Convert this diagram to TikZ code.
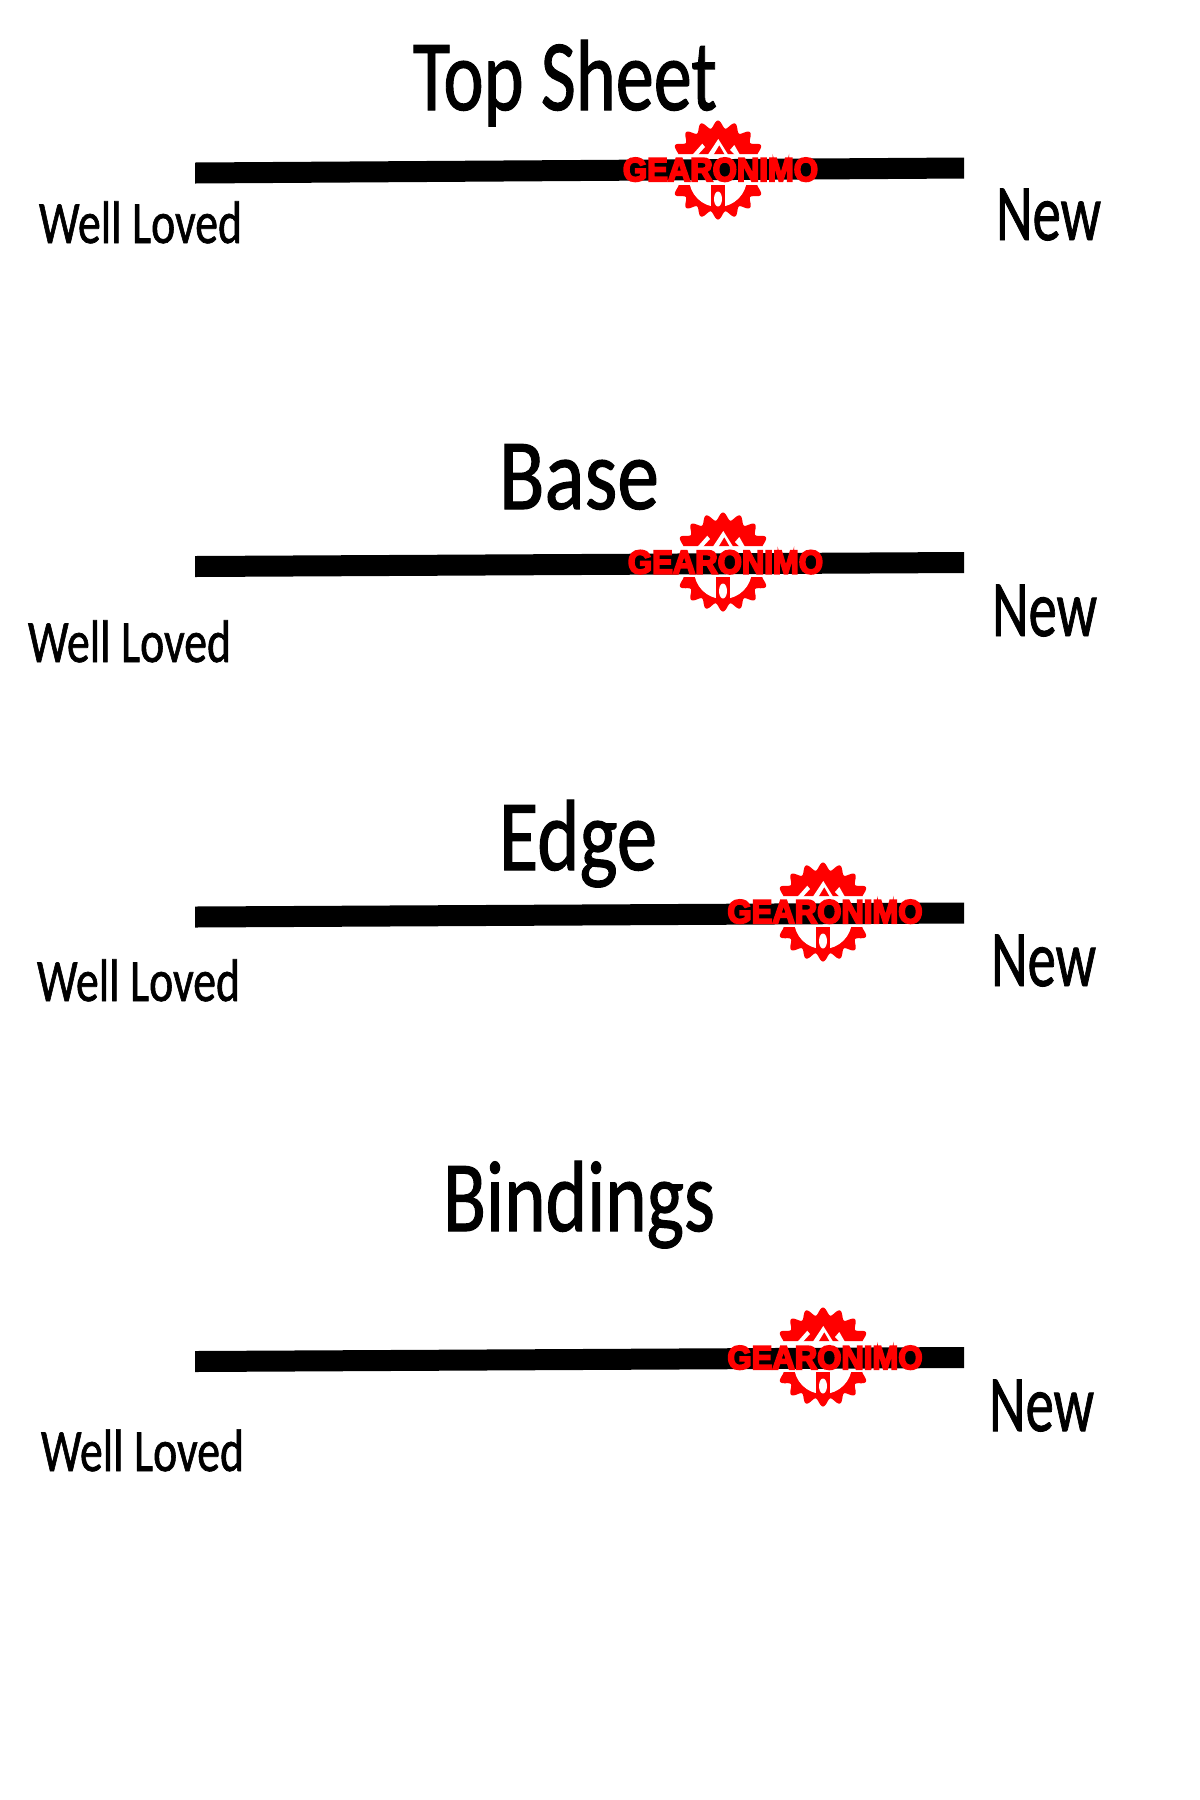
\documentclass[tikz,border=0pt]{standalone}
\usepackage{fontspec}
\usepackage{graphicx}
\newfontfamily\handfont[FakeBold=1.2]{Carlito}
\newfontfamily\logofont[FakeBold=6]{Liberation Sans Bold}
\definecolor{logored}{RGB}{255,0,0}
\newcommand{\handtext}[6]{%
  \node[anchor=base west,inner sep=0pt,outer sep=0pt] (#1) at (#2,#3)
    {\resizebox{#4pt}{\height}{\fontsize{#5}{#5}\handfont #6}};}
\newcommand{\gearlogo}[3]{%
  \begin{scope}[shift={(#2,#3)}]
    \begin{scope}
      \clip (-60,-60) rectangle (60,-16) (-60,15) rectangle (60,60);
      \fill[logored] plot[variable=\t,domain=0:360,samples=361,smooth cycle]
        ({(42+7.5*(0.5+0.5*cos(18*\t)))*sin(\t)},{(42+7.5*(0.5+0.5*cos(18*\t)))*cos(\t)});
    \end{scope}
    \fill[white] (-25.7,-15) -- (-15.7,-26.3) -- (-13,-23) -- (-20.3,-15) -- cycle;
    \fill[white] (-10.3,-15) -- (0.3,-31) -- (10.3,-15) -- (7,-15) -- (1.3,-25) -- (-4.7,-15) -- cycle;
    \fill[white] (12,-20) -- (16.3,-25) -- (22,-15) -- (17,-15) -- cycle;
    \begin{scope}
      \clip (-60,14) rectangle (60,60);
      \fill[white] (0,8) circle[radius=29];
    \end{scope}
    \fill[logored] (-7,15) -- (7,15) -- (7,40) -- (-7,40) -- cycle;
    \fill[white] (0,29) ellipse[x radius=4,y radius=7.5];
  \end{scope}}
\newcommand{\logotext}[3]{%
  \node[anchor=base,inner sep=0pt,outer sep=0pt,text=logored] (#1) at (#2,#3)
    {\resizebox{195pt}{\height}{\fontsize{33}{33}\logofont GEARONIMO}};}
\begin{document}
\begin{tikzpicture}[x=1pt,y=-1pt]
\useasboundingbox (0,0) rectangle (1200,1800);
\fill[white] (0,0) rectangle (1200,1800);
% gears
\gearlogo{g1}{718}{170}
\gearlogo{g2}{723}{562}
\gearlogo{g3}{823}{912}
\gearlogo{g4}{823}{1357}
% bars
\fill[black] (195,162.5) -- (964,157.5) -- (964,178.5) -- (195,183.5) -- cycle;
\fill[black] (195,556) -- (964,552) -- (964,573) -- (195,577) -- cycle;
\fill[black] (195,906.5) -- (964,902.5) -- (964,923.5) -- (195,927.5) -- cycle;
\fill[black] (195,1351) -- (964,1347) -- (964,1368) -- (195,1372) -- cycle;
% logo text
\logotext{l1}{720.5}{181}
\logotext{l2}{725.5}{573.5}
\logotext{l3}{825}{923}
\logotext{l4}{825}{1369}
% titles
\handtext{t1}{413}{110}{304}{101}{Top Sheet}
\handtext{t2}{499}{509}{160}{101}{Base}
\handtext{t3}{499}{870}{158}{101}{Edge}
\handtext{t4}{443}{1231}{272}{101}{Bindings}
% left labels
\handtext{w1}{39}{243}{203}{60}{Well Loved}
\handtext{w2}{28}{662}{203}{60}{Well Loved}
\handtext{w3}{37}{1001}{203}{60}{Well Loved}
\handtext{w4}{41}{1471}{203}{60}{Well Loved}
% right labels
\handtext{n1}{996}{240}{105}{80}{New}
\handtext{n2}{992}{636}{105}{80}{New}
\handtext{n3}{991}{986}{105}{80}{New}
\handtext{n4}{989}{1431}{105}{80}{New}
\end{tikzpicture}
\end{document}
